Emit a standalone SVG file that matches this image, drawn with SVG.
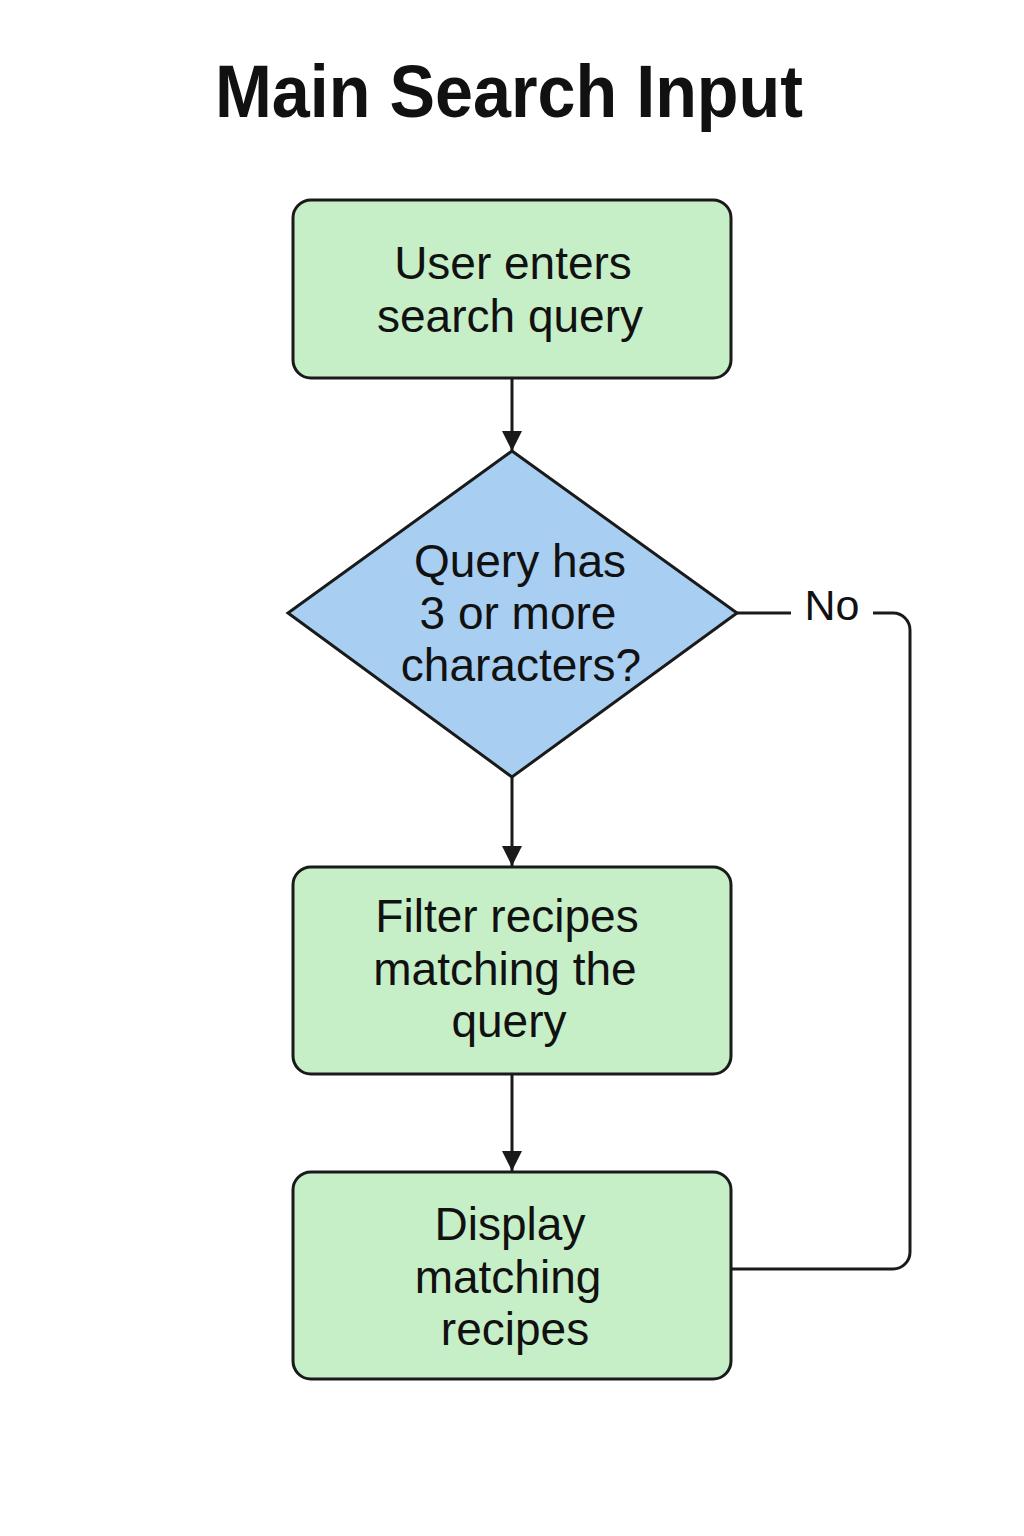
<svg xmlns="http://www.w3.org/2000/svg" width="1024" height="1536" viewBox="0 0 1024 1536">
<defs>
<style>
.box{fill:#c6efc8;stroke:#1a1a1a;stroke-width:3}
.dia{fill:#a8cff1;stroke:#1a1a1a;stroke-width:3}
.t{font-family:"Liberation Sans",Arial,sans-serif;font-size:46px;fill:#111;text-anchor:middle}
.title{font-family:"Liberation Sans",Arial,sans-serif;font-size:74px;font-weight:bold;fill:#111;text-anchor:middle}
.c{fill:none;stroke:#1a1a1a;stroke-width:3}
</style>
<marker id="ah2" markerWidth="20" markerHeight="20" viewBox="0 0 20 20" refX="20" refY="10" orient="auto" markerUnits="userSpaceOnUse">
<path d="M0,0 L20,10 L0,20 Z" fill="#1a1a1a"/>
</marker>
</defs>
<rect width="1024" height="1536" fill="#ffffff"/>
<text class="title" x="509" y="117" textLength="588" lengthAdjust="spacingAndGlyphs">Main Search Input</text>
<g id="connectors">
<line class="c" x1="512" y1="378" x2="512" y2="451" marker-end="url(#ah2)"/>
<line class="c" x1="512" y1="777" x2="512" y2="866" marker-end="url(#ah2)"/>
<line class="c" x1="512" y1="1074" x2="512" y2="1171" marker-end="url(#ah2)"/>
<line class="c" x1="737" y1="613" x2="791" y2="613"/>
<path class="c" d="M732,1269 L893,1269 A17,17 0 0 0 910,1252 L910,630 A17,17 0 0 0 893,613 L873,613"/>
<text class="t" x="832" y="620" style="font-size:43px">No</text>
</g>
<g id="n1">
<rect class="box" x="293" y="200" width="438" height="178" rx="18"/>
<text class="t" x="513" y="279">User enters</text>
<text class="t" x="510" y="332">search query</text>
</g>
<g id="n2">
<polygon class="dia" points="512,451 737,613 512,777 288,613"/>
<text class="t" x="520" y="577">Query has</text>
<text class="t" x="518" y="629">3 or more</text>
<text class="t" x="521" y="681">characters?</text>
</g>
<g id="n3">
<rect class="box" x="293" y="867" width="438" height="207" rx="18"/>
<text class="t" x="507" y="932">Filter recipes</text>
<text class="t" x="505" y="985">matching the</text>
<text class="t" x="509" y="1037">query</text>
</g>
<g id="n4">
<rect class="box" x="293" y="1172" width="438" height="207" rx="18"/>
<text class="t" x="510" y="1240">Display</text>
<text class="t" x="508" y="1293">matching</text>
<text class="t" x="515" y="1345">recipes</text>
</g>
</svg>
